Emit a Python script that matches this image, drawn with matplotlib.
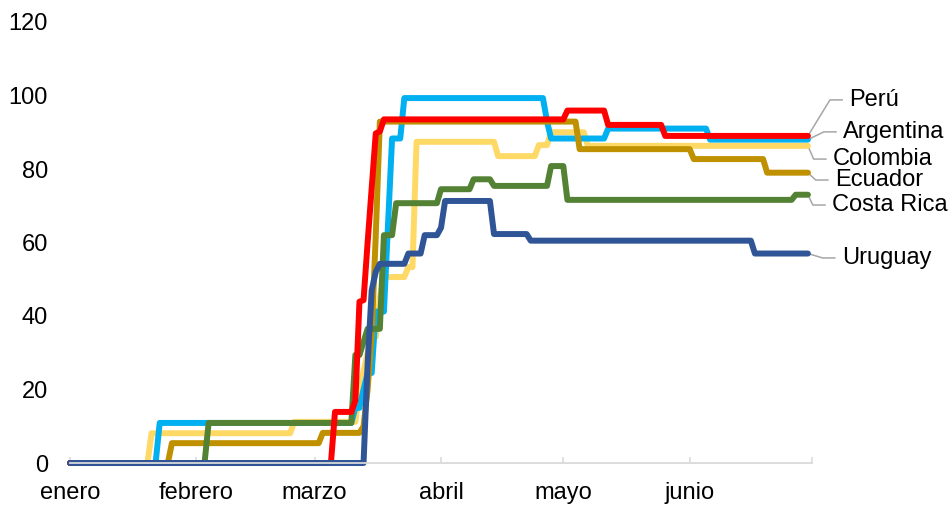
import numpy as np
import matplotlib
matplotlib.use("Agg")
import matplotlib.pyplot as plt

######################
### Datos (diarios) ###
######################
# cada serie: dia en que empieza un nivel (0 = 1 de enero) y su valor
dias_total = 182

peru_inicio = [0, 65, 70, 71, 72, 73, 74, 75, 76, 77, 122, 132, 146]
peru_valor = [0, 13.9, 17, 43.9, 44.3, 60, 75, 89.7, 90.2, 93.5, 95.9, 92, 89]

argentina_inicio = [0, 22, 70, 72, 73, 75, 78, 79, 82, 117, 118, 132, 157]
argentina_valor = [0, 10.9, 15, 20, 24.5, 41.2, 65, 88.3, 99.3, 93, 88.3, 91, 88]

colombia_inicio = [0, 20, 55, 71, 72, 73, 74, 76, 77, 83, 85, 105, 115, 118, 127]
colombia_valor = [0, 8.1, 11.2, 20, 25, 30, 34.3, 45, 50.6, 53.3, 87.4, 83.5, 86.5, 90, 86.3]

ecuador_inicio = [0, 25, 62, 72, 73, 74, 75, 76, 125, 153, 171]
ecuador_valor = [0, 5.4, 8.2, 10, 20, 35, 62, 92.9, 85.4, 82.7, 79]

costarica_inicio = [0, 34, 70, 72, 73, 77, 80, 91, 99, 104, 118, 122, 178]
costarica_valor = [0, 10.9, 29.4, 33, 36.5, 62, 70.7, 74.5, 77.2, 75.4, 80.8, 71.6, 73]

uruguay_inicio = [0, 73, 74, 75, 76, 83, 87, 91, 92, 104, 113, 168]
uruguay_valor = [0, 27, 47, 52, 54.2, 57, 62, 64, 71.3, 62.3, 60.5, 57]

meses = ["enero", "febrero", "marzo", "abril", "mayo", "junio", ""]
meses_dia = [0, 31, 60, 91, 121, 152, 182]


def serie(inicio, valor):
    duracion = np.diff(inicio + [dias_total])
    return np.repeat(valor, duracion)


# orden de dibujo, color y posicion de la etiqueta (dia, valor)
series = [
    ("Colombia", colombia_inicio, colombia_valor, "#FFD966", (187.1, 82.7)),
    ("Argentina", argentina_inicio, argentina_valor, "#00B0F0", (189.6, 90.1)),
    ("Ecuador", ecuador_inicio, ecuador_valor, "#BF9000", (187.6, 77.0)),
    ("Costa Rica", costarica_inicio, costarica_valor, "#548235", (186.9, 70.2)),
    ("Perú", peru_inicio, peru_valor, "#FF0000", (191.1, 98.8)),
    ("Uruguay", uruguay_inicio, uruguay_valor, "#2F5597", (189.3, 55.8)),
]

###############
### Grafico ###
###############
plt.rcParams["font.family"] = ["Liberation Sans", "DejaVu Sans"]

fig = plt.figure(figsize=(9.51, 5.05), dpi=100)
ax = fig.add_axes([70 / 951, 1 - 463 / 505, 742 / 951, 441 / 505])

dias = np.arange(dias_total)
for nombre, ini, val, color, (tx, ty) in series:
    y = serie(ini, val)
    ax.plot(dias, y, color=color, lw=4.3, solid_capstyle="round",
            solid_joinstyle="round", clip_on=False)
    # linea guia hacia la etiqueta
    x_fin = tx - 1.7
    x_codo = x_fin - 3
    ax.plot([dias[-1], x_codo, x_fin], [y[-1], ty, ty], color="#A6A6A6",
            lw=1.1, clip_on=False, zorder=1)
    ax.text(tx, ty, nombre, fontsize=17, va="center", ha="left", clip_on=False)

ax.set_xlim(0, dias_total)
ax.set_ylim(0, 120)
ax.set_yticks(range(0, 121, 20))
ax.set_xticks(meses_dia)
ax.set_xticklabels(meses)

for lado in ["top", "right", "left"]:
    ax.spines[lado].set_visible(False)
ax.spines["bottom"].set_color("#D9D9D9")
ax.spines["bottom"].set_linewidth(1.3)
ax.tick_params(axis="x", direction="in", length=4.5, width=1.1, color="#D9D9D9",
               labelsize=17, pad=14)
ax.tick_params(axis="y", length=0, labelsize=17, pad=16)

plt.savefig("out.png", dpi=100)
